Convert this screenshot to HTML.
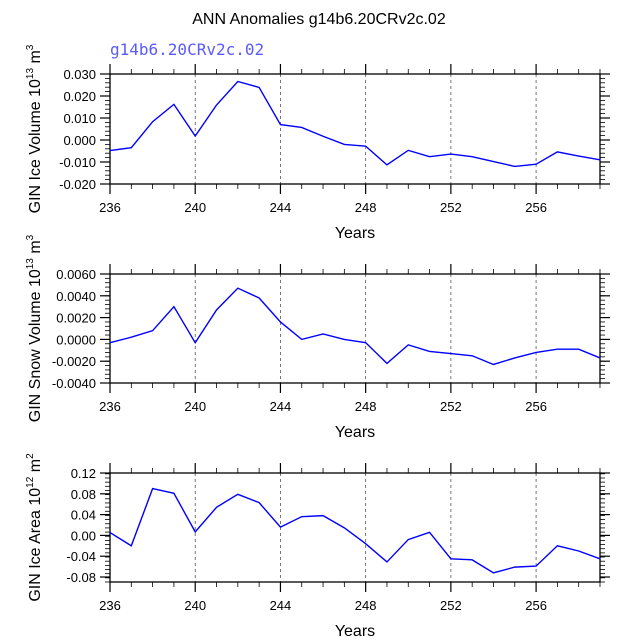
<!DOCTYPE html>
<html><head><meta charset="utf-8"><style>
body{margin:0;background:#fff;}
svg{display:block;font-family:"Liberation Sans",Helvetica,sans-serif;}
</style></head><body>
<svg id="c" width="638" height="638" viewBox="0 0 638 638">
<text x="319" y="24" font-size="16" text-anchor="middle">ANN Anomalies g14b6.20CRv2c.02</text>
<text x="110" y="55" font-size="16" fill="#5a5aff" font-family="'DejaVu Sans Mono','Liberation Mono',monospace">g14b6.20CRv2c.02</text>
</svg>
<script>
const years = [236,237,238,239,240,241,242,243,244,245,246,247,248,249,250,251,252,253,254,255,256,257,258,259];
const iceVolume = [-0.0048,-0.0035,0.0083,0.0162,0.0018,0.0159,0.0266,0.0239,0.0070,0.0057,0.0017,-0.0020,-0.0028,-0.0113,-0.0047,-0.0076,-0.0064,-0.0076,-0.0098,-0.0120,-0.0110,-0.0054,-0.0073,-0.0090];
const snowVolume = [-0.0003,0.0002,0.0008,0.0030,-0.0003,0.0027,0.0047,0.0038,0.0016,0.0000,0.0005,0.0000,-0.0003,-0.0022,-0.0005,-0.0011,-0.0013,-0.0015,-0.0023,-0.0017,-0.0012,-0.0009,-0.0009,-0.0017];
const iceArea = [0.0055,-0.020,0.090,0.081,0.0068,0.054,0.079,0.063,0.016,0.036,0.038,0.0145,-0.016,-0.051,-0.008,0.006,-0.045,-0.047,-0.072,-0.061,-0.059,-0.020,-0.030,-0.045];
const xTicks = [236,240,244,248,252,256];
const iceTicks = [-0.02,-0.01,0,0.01,0.02,0.03];
const iceTickLabels = ["-0.020","-0.010","0.000","0.010","0.020","0.030"];
const snowTicks = [-0.004,-0.002,0,0.002,0.004,0.006];
const snowTickLabels = ["-0.0040","-0.0020","0.0000","0.0020","0.0040","0.0060"];
const areaTicks = [-0.08,-0.04,0,0.04,0.08,0.12];
const areaTickLabels = ["-0.08","-0.04","0.00","0.04","0.08","0.12"];

const svg=document.getElementById('c');
const NS='http://www.w3.org/2000/svg';
function mk(tag,attrs,parent){const e=document.createElementNS(NS,tag);for(const k in attrs)e.setAttribute(k,attrs[k]);(parent||svg).appendChild(e);return e;}
const X0=110,X1=600,XMIN=236,XMAX=259;
function xs(v){return X0+(v-XMIN)/(XMAX-XMIN)*(X1-X0);}

function panel(name,top,bot,ymin,ymax,ticks,labels,minorStep,vals,titleMain,sup,unit){
  const g=mk('g',{});
  
  
  const ys=v=>bot-(v-ymin)/(ymax-ymin)*(bot-top);
  // dashed grid
  xTicks.forEach(t=>{if(t>XMIN){const l=mk('line',{x1:xs(t),x2:xs(t),y1:top,y2:bot,stroke:'#555','stroke-width':0.8,'stroke-dasharray':'3,3'},g);
    }});
  // minor x ticks
  for(let y=XMIN;y<=XMAX;y++){const maj=xTicks.includes(y);const len=maj?10:5;
    mk('line',{x1:xs(y),x2:xs(y),y1:bot,y2:bot+len,stroke:'#000','stroke-width':maj?1.2:0.8},g);
    mk('line',{x1:xs(y),x2:xs(y),y1:top,y2:top-len,stroke:'#000','stroke-width':maj?1.2:0.8},g);}
  // minor y ticks
  const n=Math.round((ymax-ymin)/minorStep);
  for(let i=0;i<=n;i++){const v=ymin+i*minorStep;if(v>ymax+1e-9)break;const yy=ys(v);
    mk('line',{x1:X0-5,x2:X0,y1:yy,y2:yy,stroke:'#000','stroke-width':0.8},g);
    mk('line',{x1:X1,x2:X1+5,y1:yy,y2:yy,stroke:'#000','stroke-width':0.8},g);}
  ticks.forEach((t,i)=>{const yy=ys(t);
    mk('line',{x1:X0-10,x2:X0,y1:yy,y2:yy,stroke:'#000','stroke-width':1.2},g);
    mk('line',{x1:X1,x2:X1+10,y1:yy,y2:yy,stroke:'#000','stroke-width':1.2},g);
    const tx=mk('text',{x:X0-14,y:yy+5,'font-size':13,'text-anchor':'end'},g);tx.textContent=labels[i];
    });
  xTicks.forEach(t=>{const tx=mk('text',{x:xs(t),y:bot+28,'font-size':13,'text-anchor':'middle'},g);tx.textContent=t;
    });
  const r=mk('rect',{x:X0,y:top,width:X1-X0,height:bot-top,fill:'none',stroke:'#000','stroke-width':1.3},g);
  
  const pl=mk('polyline',{points:vals.map((v,i)=>xs(years[i])+','+ys(v)).join(' '),fill:'none',stroke:'#0000ff','stroke-width':1.4},g);
  
  const xt=mk('text',{x:(X0+X1)/2,y:bot+54,'font-size':16,'text-anchor':'middle'},g);xt.textContent='Years';
  
  const cy=(top+bot)/2;
  const yt=mk('text',{x:0,y:0,'font-size':16,'text-anchor':'middle',transform:`translate(40,${cy}) rotate(-90)`},g);
  
  const a=document.createElementNS(NS,'tspan');a.textContent=titleMain;yt.appendChild(a);
  const b=document.createElementNS(NS,'tspan');b.setAttribute('font-size','10');b.setAttribute('dy','-7');b.textContent=sup;yt.appendChild(b);
  const c=document.createElementNS(NS,'tspan');c.setAttribute('dy','7');c.textContent=' m';yt.appendChild(c);
  const d=document.createElementNS(NS,'tspan');d.setAttribute('font-size','10');d.setAttribute('dy','-7');d.textContent=unit;yt.appendChild(d);
}
panel('ice-volume',74,184,-0.02,0.03,iceTicks,iceTickLabels,0.002,iceVolume,'GIN Ice Volume 10','13','3');
panel('snow-volume',274,383,-0.004,0.006,snowTicks,snowTickLabels,0.0004,snowVolume,'GIN Snow Volume 10','13','3');
panel('ice-area',473,582,-0.0896,0.12,areaTicks,areaTickLabels,0.008,iceArea,'GIN Ice Area 10','12','2');
</script>
</body></html>
